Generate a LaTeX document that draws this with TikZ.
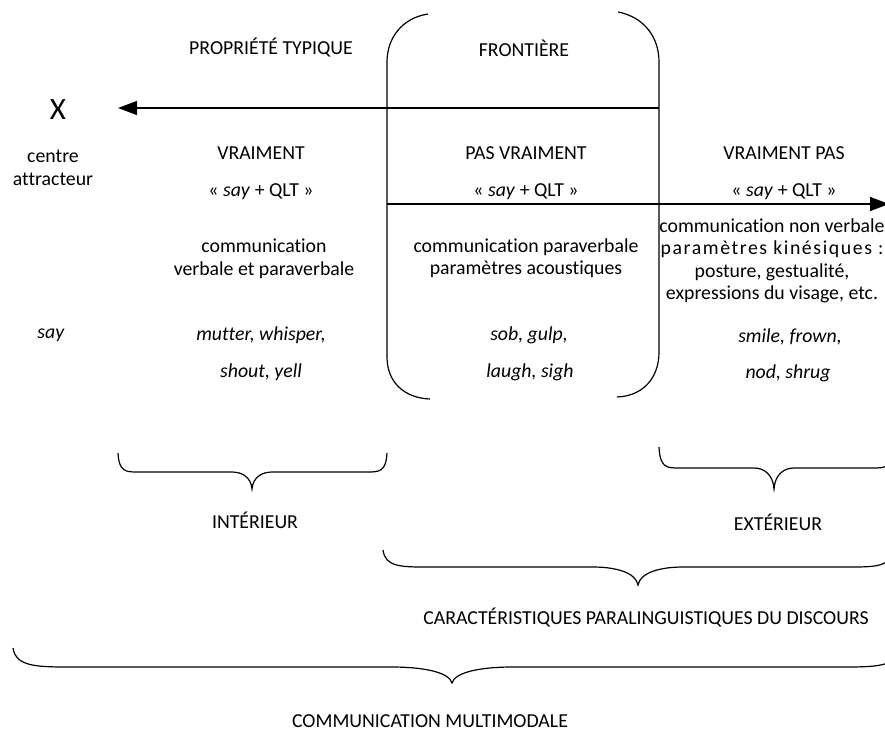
\documentclass[tikz,border=0pt]{standalone}
\usepackage{fontspec}
\setmainfont{Carlito}[Ligatures=NoCommon]
\usetikzlibrary{arrows.meta,positioning}

% curly brace pointing down: x1, x2, xmid, ytop, yflat, ytip, curve width
\newcommand{\accolade}[7]{%
  \draw [trait] (#1,#4) .. controls ({#1+0.05*#7},#5) and ({#1+0.4*#7},#5) .. ({#1+#7},#5)
    -- ({#3-#7},#5) .. controls ({#3-0.5*#7},#5) and ({#3-0.05*#7},{#5+0.3*(#6-#5)}) .. (#3,#6)
    .. controls ({#3+0.05*#7},{#5+0.3*(#6-#5)}) and ({#3+0.5*#7},#5) .. ({#3+#7},#5)
    -- ({#2-#7},#5) .. controls ({#2-0.4*#7},#5) and ({#2-0.05*#7},#5) .. (#2,#4);}

\begin{document}
\begin{tikzpicture}[x=1pt,y=-1pt,
    every node/.style={inner sep=0pt,font=\fontsize{19.8}{22.5}\selectfont},
    trait/.style={black,line width=1.2pt},
    fleche/.style={trait,-{Triangle[length=19pt,width=14pt]}},
    ligne/.style={align=center}]
  \useasboundingbox (0,0) rectangle (885,737);
  % frontier box
  \draw [trait] (428,14) .. controls (402,18) and (387,38) .. (387,62)
    -- (387,357) .. controls (387,382) and (404,398) .. (430,399);
  \draw [trait] (618,12) .. controls (644,17) and (659,37) .. (659,62)
    -- (659,352) .. controls (659,378) and (643,396) .. (617,397);
  % headings
  \node (typique) at (271,48) {PROPRIÉTÉ TYPIQUE};
  \node (frontiere) at (524,48) {FRONTIÈRE};
  \node (x) at (58,110) {\fontsize{31}{33}\selectfont X};
  \coordinate (hautd) at (659,108);
  \coordinate (hautg) at (118,108);
  \draw [fleche] (hautd) -- (hautg);
  \node [ligne] (centre) at (53,168) {centre\\attracteur};
  \node (vraiment) at (261,153) {VRAIMENT};
  \node (pasvraiment) at (526,153) {PAS VRAIMENT};
  \node (vraimentpas) at (784,153) {VRAIMENT PAS};
  \node (qltA) at (261,192) {« \textit{say} + QLT »};
  \node (qltB) at (526,192) {« \textit{say} + QLT »};
  \node (qltC) at (784,192) {« \textit{say} + QLT »};
  \coordinate (basg) at (387,204);
  \coordinate (basd) at (889,204);
  \draw [fleche] (basg) -- (basd);
  % descriptions
  \node [ligne] (verbale) at (264,259) {communication\\verbale et paraverbale};
  \node [ligne] (paraverbale) at (526,258) {communication paraverbale\\paramètres acoustiques};
  \node [ligne] (nonverbale) at (772,261) {communication non verbale\\
    {\addfontfeatures{LetterSpace=8}paramètres kinésiques :}\\
    posture, gestualité,\\expressions du visage, etc.};
  % verbs
  \node (say) at (51,335) {\textit{say}};
  \node (mutter) at (261,335) {\textit{mutter, whisper,}};
  \node (shout) at (261,372) {\textit{shout, yell}};
  \node (sob) at (529,335) {\textit{sob, gulp,}};
  \node (laugh) at (530,372) {\textit{laugh, sigh}};
  \node (smile) at (790,337) {\textit{smile, frown,}};
  \node (nod) at (788,373) {\textit{nod, shrug}};
  % braces
  \accolade{118}{387}{252}{453}{472}{489}{20}
  \node (interieur) at (255,520) {INTÉRIEUR};
  \accolade{659}{893}{774}{447}{468}{489}{20}
  \node (exterieur) at (778,522) {EXTÉRIEUR};
  \accolade{383}{893}{638}{550}{567}{585}{45}
  \node (carac) at (646,618) {CARACTÉRISTIQUES PARALINGUISTIQUES DU DISCOURS};
  \accolade{13}{900}{452}{648}{667}{683}{60}
  \node (multimodale) at (430,721) {COMMUNICATION MULTIMODALE};
\end{tikzpicture}
\end{document}
